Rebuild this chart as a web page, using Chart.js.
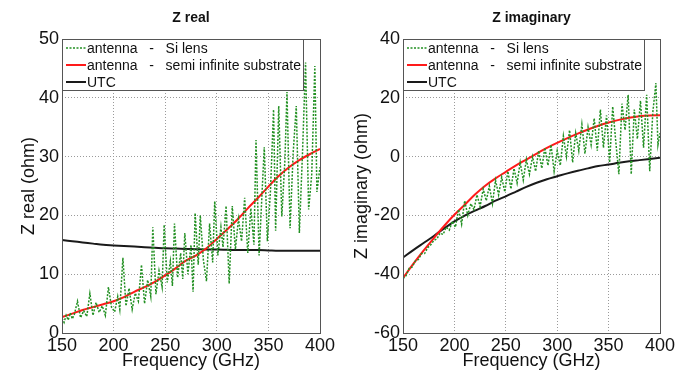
<!DOCTYPE html>
<html>
<head>
<meta charset="utf-8">
<script src="https://cdn.jsdelivr.net/npm/chart.js@4.4.0/dist/chart.umd.min.js"></script>
<style>
  body { margin: 0; background: #fff; width: 691px; height: 375px; overflow: hidden; position: relative; }
  canvas { position: absolute; top: 0; }
</style>
</head>
<body>
<canvas id="realChart" width="345" height="375" style="left:0"></canvas>
<canvas id="imagChart" width="346" height="375" style="left:345px"></canvas>
<script>
// smooth curves, sampled every 10 GHz
const freqs = [150,160,170,180,190,200,210,220,230,240,250,260,270,280,290,300,310,320,330,340,350,360,370,380,390,400];
const semiReal = [2.7,3.3,3.9,4.4,4.9,5.4,6.1,7.0,7.8,8.7,9.8,11.0,12.3,13.2,14.4,16.0,17.6,19.3,21.2,23.0,24.9,26.7,28.2,29.4,30.4,31.3];
const utcReal  = [15.8,15.6,15.4,15.2,15.0,14.9,14.8,14.7,14.6,14.5,14.4,14.35,14.3,14.25,14.2,14.2,14.15,14.1,14.1,14.1,14.05,14.0,14.0,14.0,14.0,14.0];
const semiImag = [-41.3,-36.5,-32,-27.7,-23.6,-19.8,-16.4,-12.9,-9.9,-7.4,-5.2,-3.0,-1.0,1.0,3.0,4.7,6.3,7.8,9.2,10.5,11.6,12.5,13.2,13.7,14.0,14.1];
const utcImag  = [-34.3,-31.8,-29.4,-27.0,-24.4,-22.0,-20.1,-18.4,-16.8,-15.0,-13.5,-11.9,-10.3,-8.9,-7.7,-6.7,-5.7,-4.8,-4.0,-3.2,-2.7,-2.1,-1.6,-1.2,-0.8,-0.4];

// Si lens, real part
const lensRealFreq = [
  150,152,154,156,158,160,162,165,168,171,
  174,177,180,183,186,189,192,195,198,201,
  204,206,209,212,215,218,221,224,227,230,
  233,236,238,241,244,247,249,252,255,257,
  259,262,265,267,269,272,275,277,279,282,
  284,287,290,293,296,298,301,304,306,309,
  312,315,318,321,324,327,330,333,336,338,
  341,344,346,349,352,355,357,360,363,366,
  368,371,374,377,380,383,386,389,392,395,
  397,400];
const lensReal = [
  2.5,1.8,3.0,2.2,3.4,2.4,3.2,5.4,2.6,3.8,
  2.8,6.7,3.0,5.2,3.5,4.6,3.0,7.8,4.4,3.6,
  6.2,4.0,12.8,4.6,7.6,4.0,6.8,5.4,11.6,5.0,
  9.0,6.2,18.0,6.6,10.6,7.8,18.4,8.6,12.2,8.0,
  18.6,9.4,13.6,9.2,17.0,10.0,15.0,7.0,20.4,11.6,
  20.0,12.4,8.8,18.6,12.0,22.4,13.2,18.0,14.6,21.6,
  8.4,21.6,14.2,19.4,15.6,23.0,13.6,21.2,15.0,32.8,
  13.2,24.4,31.6,15.6,24.2,38.0,17.4,38.6,19.8,29.4,
  41.0,17.8,30.6,38.6,17.0,30.4,46.0,21.0,27.0,45.4,
  24.0,28.2];

// Si lens, imaginary part
const lensImagFreq = [
  150,153,156,159,162,165,168,171,174,177,
  180,183,186,189,192,195,198,201,204,207,
  210,213,216,219,222,225,228,231,234,237,
  240,243,246,249,252,255,258,261,264,267,
  270,273,276,279,282,285,288,291,294,297,
  300,303,306,309,312,315,318,321,324,327,
  330,333,336,339,342,345,348,351,354,357,
  360,363,366,369,372,375,378,381,384,387,
  390,393,396,398,400];
const lensImag = [
  -41.5,-40.5,-38,-37.5,-35.5,-35,-33,-33,-31,-30,
  -28.5,-28,-26,-26.5,-24,-25,-22,-24,-18,-23,
  -15,-20,-16,-18,-13,-17,-11,-15,-10,-16,
  -8,-13,-7,-12,-5,-11,-4,-9,-2,-8,
  -1,-6,0,-5,2,-4,3,-3,4,-5,
  2,-3,7,0,9,-2,8,2,11,1,
  10,4,13,2,16,3,14,-2,17,5,
  -6,18,9,21,-6,16,6,19,3,21,
  -5,15,25,4,8];

const legendLabels = ['antenna   -   Si lens', 'antenna   -   semi infinite substrate', 'UTC'];
const FONT = '"Liberation Sans", Arial, sans-serif';

function pts(xs, ys) {
  return xs.map((x, i) => ({ x: x, y: ys[i] }));
}

const framePlugin = {
  id: 'frame',
  afterDraw(chart, args, opts) {
    const { ctx, chartArea: a } = chart;
    ctx.save();
    // legend box
    const lx = a.left, ly = a.top, lw = 241, lh = 51;
    ctx.fillStyle = '#fff';
    ctx.fillRect(lx, ly, lw, lh);
    ctx.strokeStyle = '#555';
    ctx.lineWidth = 1;
    ctx.strokeRect(lx + 0.5, ly + 0.5, lw, lh);
    chart.data.datasets.forEach((ds, i) => {
      const y = ly + 9 + i * 17;
      ctx.beginPath();
      ctx.setLineDash(ds.borderDash || []);
      ctx.strokeStyle = ds.borderColor;
      ctx.lineWidth = ds.borderWidth;
      ctx.moveTo(lx + 4, y);
      ctx.lineTo(lx + 24, y);
      ctx.stroke();
      ctx.setLineDash([]);
      ctx.fillStyle = '#111';
      ctx.font = '14px ' + FONT;
      ctx.textBaseline = 'middle';
      ctx.textAlign = 'left';
      ctx.fillText(ds.label, lx + 25, y + 1);
    });
    // plot frame
    ctx.strokeStyle = '#555';
    ctx.lineWidth = 1;
    ctx.strokeRect(a.left + 0.5, a.top + 0.5, a.right - a.left, a.bottom - a.top);
    // title
    ctx.fillStyle = '#111';
    ctx.font = 'bold 14px ' + FONT;
    ctx.textAlign = 'center';
    ctx.textBaseline = 'middle';
    ctx.fillText(opts.text, (a.left + a.right) / 2, 18);
    ctx.restore();
  }
};

function makeChart(id, title, yTitle, lensF, lensV, semiV, utcV, yMin, yMax, yStep, leftW, padRight, yTitlePad) {
  return new Chart(document.getElementById(id), {
    type: 'line',
    data: {
      datasets: [
        { label: legendLabels[0], data: pts(lensF, lensV), borderColor: '#229022', borderWidth: 1.5, borderDash: [2, 1.5], tension: 0 },
        { label: legendLabels[1], data: pts(freqs, semiV), borderColor: '#ff1a1a', borderWidth: 2, cubicInterpolationMode: 'monotone' },
        { label: legendLabels[2], data: pts(freqs, utcV), borderColor: '#1a1a1a', borderWidth: 2, cubicInterpolationMode: 'monotone' }
      ]
    },
    options: {
      responsive: false,
      animation: false,
      events: [],
      elements: { point: { radius: 0 } },
      layout: { padding: { top: 39, right: padRight, bottom: 0, left: 0 } },
      plugins: { legend: { display: false }, tooltip: { enabled: false }, frame: { text: title } },
      scales: {
        x: {
          type: 'linear', min: 150, max: 400,
          ticks: { stepSize: 50, autoSkip: false, maxRotation: 0, padding: 2, color: '#111', font: { family: FONT, size: 18 } },
          grid: { color: '#9a9a9a', drawTicks: false },
          border: { display: false, dash: [1, 2] },
          title: { display: true, text: 'Frequency (GHz)', color: '#111', font: { family: FONT, size: 18 }, padding: { top: 0, bottom: 3 } },
          afterFit: s => { s.height = 42; }
        },
        y: {
          min: yMin, max: yMax,
          ticks: { stepSize: yStep, autoSkip: false, padding: 3, color: '#111', font: { family: FONT, size: 18 } },
          grid: { color: '#9a9a9a', drawTicks: false },
          border: { display: false, dash: [1, 2] },
          title: { display: true, text: yTitle, color: '#111', font: { family: FONT, size: 18 }, padding: { top: yTitlePad, bottom: 0 } },
          afterFit: s => { s.width = leftW; }
        }
      }
    },
    plugins: [framePlugin]
  });
}

makeChart('realChart', 'Z real', 'Z real (ohm)', lensRealFreq, lensReal, semiReal, utcReal, 0, 50, 10, 62, 25, 18);
makeChart('imagChart', 'Z imaginary', 'Z imaginary (ohm)', lensImagFreq, lensImag, semiImag, utcImag, -60, 40, 20, 58, 31, 6);
</script>
</body>
</html>
